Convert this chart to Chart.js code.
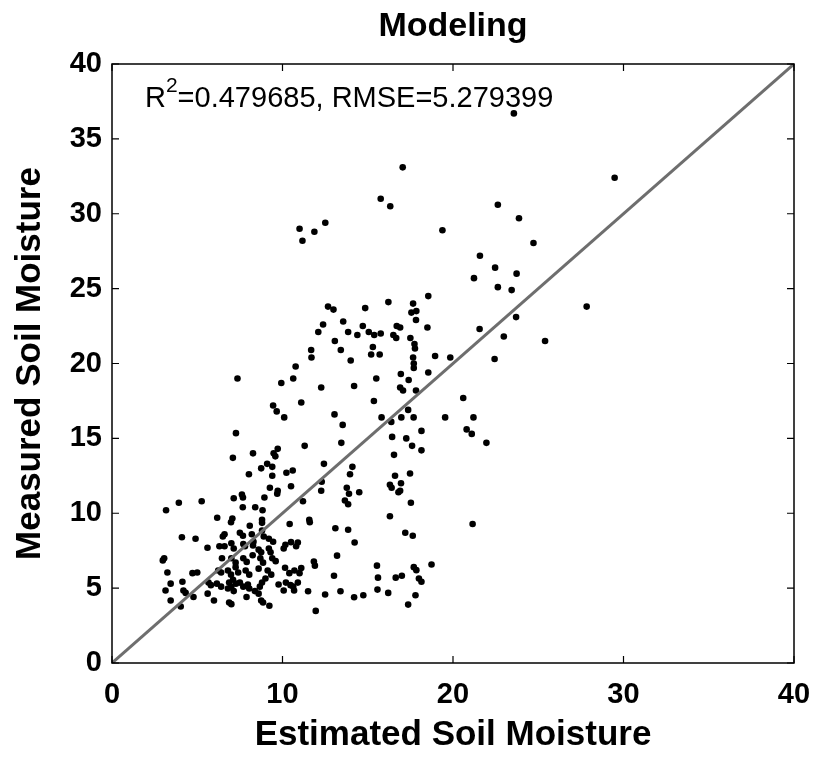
<!DOCTYPE html>
<html>
<head>
<meta charset="utf-8">
<script src="https://cdn.jsdelivr.net/npm/chart.js@4.4.1/dist/chart.umd.min.js"></script>
<style>
  html, body { margin: 0; padding: 0; background: #fff; }
  #wrap { width: 817px; height: 757px; }
</style>
</head>
<body>
<div id="wrap"><canvas id="scatter-chart" width="817" height="757"></canvas></div>
<script>
// estimated (x) vs measured (y) soil moisture
const estimated = [
  23.57, 17.05, 29.48, 15.76, 16.32, 22.63, 23.87, 11.0, 12.51, 11.87,
  11.17, 19.38, 24.72, 21.58, 22.47, 23.73, 21.23, 22.63, 23.44, 18.55,
  27.84, 16.21, 12.67, 12.99, 14.85, 17.66, 17.85, 17.56, 12.38, 13.56,
  14.71, 16.7, 16.9, 17.83, 18.5, 23.7, 21.56, 12.1, 13.85, 14.39,
  15.06, 15.38, 15.76, 16.5, 16.67, 17.5, 13.07, 15.3, 22.98, 25.4,
  17.74, 17.77, 13.42, 11.68, 11.7, 15.2, 15.7, 14.0, 17.66, 17.7,
  18.95, 19.84, 22.44, 10.77, 17.7, 18.55, 16.94, 7.36, 10.63, 9.93,
  15.5, 17.4, 12.27, 14.2, 16.9, 17.07, 17.83, 20.6, 11.1, 15.36,
  9.45, 9.66, 10.1, 13.05, 17.37, 15.81, 16.38, 16.97, 17.69, 19.54,
  21.2, 13.53, 18.15, 20.8, 21.1, 21.96, 7.27, 16.43, 17.26, 13.45,
  17.6, 11.3, 9.48, 9.72, 9.58, 8.27, 7.09, 18.15, 16.54, 12.43,
  14.1, 13.96, 9.1, 9.4, 10.6, 10.23, 8.03, 8.75, 17.48, 16.6,
  9.4, 10.5, 12.3, 12.27, 16.3, 16.4, 16.9, 16.8, 16.95, 9.26,
  9.72, 9.69, 13.77, 13.9, 14.5, 7.14, 7.62, 7.68, 8.94, 11.2,
  13.66, 13.85, 7.67, 8.4, 17.53, 3.92, 5.26, 3.17, 8.83, 16.3,
  11.57, 11.6, 8.8, 8.8, 7.06, 6.98, 6.17, 10.42, 21.15, 8.08,
  13.1, 13.85, 17.2, 17.64, 4.1, 4.9, 6.6, 6.5, 7.5, 7.68,
  8.2, 8.8, 8.9, 9.2, 5.6, 6.3, 6.6, 7.0, 7.14, 7.7,
  7.8, 8.3, 8.27, 8.6, 8.75, 9.2, 9.3, 9.45, 10.17, 10.07,
  10.5, 10.9, 10.8, 14.23, 13.2, 7.7, 7.9, 7.0, 7.25, 6.45,
  8.7, 8.86, 8.25, 9.4, 9.6, 3.06, 2.98, 11.84, 11.9, 18.74,
  15.54, 17.7, 17.85, 3.25, 4.72, 5.0, 6.23, 6.4, 6.8, 6.98,
  7.25, 7.4, 7.84, 8.05, 8.6, 9.13, 9.34, 10.15, 10.4, 10.7,
  11.0, 11.1, 13.02, 15.6, 16.64, 17.0, 18.0, 18.15, 3.44, 4.13,
  5.66, 5.8, 6.15, 6.4, 6.87, 7.0, 7.1, 7.27, 6.8, 7.14,
  7.5, 7.7, 7.97, 8.05, 8.8, 8.67, 9.0, 9.77, 10.07, 10.2,
  10.47, 10.63, 10.68, 10.9, 3.14, 4.19, 4.32, 5.61, 7.89, 8.38,
  8.6, 11.5, 12.5, 13.4, 14.2, 14.74, 15.57, 16.2, 17.8, 3.44,
  4.78, 5.98, 6.87, 7.0, 8.75, 8.86, 4.03, 9.23, 11.95, 17.37
];
const measured = [
  36.7, 33.1, 32.4, 31.0, 30.5, 30.6, 29.7, 29.0, 29.4, 28.8,
  28.2, 28.9, 28.05, 27.2, 26.4, 26.0, 25.7, 25.1, 24.9, 24.5,
  23.8, 24.1, 23.8, 23.6, 23.7, 24.0, 23.5, 23.4, 22.6, 22.8,
  22.5, 22.5, 22.4, 22.9, 22.4, 23.1, 22.3, 22.1, 22.1, 21.9,
  22.1, 21.9, 22.0, 21.9, 21.7, 21.7, 21.5, 21.1, 21.8, 21.5,
  21.3, 21.0, 20.9, 20.9, 20.4, 20.6, 20.6, 20.2, 20.4, 20.0,
  20.5, 20.4, 20.3, 19.8, 19.7, 19.4, 19.3, 19.0, 19.0, 18.7,
  19.0, 18.9, 18.4, 18.5, 18.4, 18.2, 18.2, 17.7, 17.4, 17.5,
  17.2, 16.8, 16.4, 16.6, 16.9, 16.4, 16.1, 16.4, 16.4, 16.4,
  16.4, 15.9, 15.5, 15.6, 15.3, 14.7, 15.35, 15.1, 15.0, 14.7,
  14.5, 14.5, 14.0, 14.3, 13.8, 14.0, 13.7, 14.2, 13.9, 13.3,
  13.1, 12.6, 13.3, 13.1, 12.85, 12.7, 12.6, 13.0, 12.65, 12.5,
  12.5, 11.8, 12.1, 11.5, 11.9, 11.7, 11.5, 11.4, 12.0, 11.7,
  11.5, 11.3, 11.7, 11.3, 11.4, 11.0, 11.25, 11.05, 11.05, 10.8,
  10.85, 10.6, 10.4, 10.4, 10.7, 10.7, 10.8, 10.2, 10.2, 9.8,
  9.57, 9.4, 9.57, 9.36, 9.65, 9.4, 9.7, 9.28, 9.28, 9.17,
  9.0, 8.9, 8.7, 8.5, 8.4, 8.3, 8.6, 8.45, 8.7, 8.5,
  8.6, 8.85, 8.45, 8.3, 7.7, 7.8, 7.8, 8.0, 7.65, 7.95,
  7.8, 8.1, 7.85, 7.57, 7.4, 7.65, 7.4, 8.1, 7.9, 7.65,
  8.07, 8.05, 7.8, 8.05, 7.17, 7.0, 6.75, 7.0, 6.7, 7.0,
  7.0, 6.7, 7.2, 7.0, 6.8, 7.0, 6.85, 6.77, 6.5, 6.58,
  6.5, 6.4, 6.2, 6.04, 6.0, 6.04, 6.18, 6.04, 6.18, 5.9,
  6.4, 6.04, 6.18, 5.9, 6.3, 6.18, 5.9, 6.36, 6.0, 6.18,
  6.0, 6.34, 5.83, 5.7, 5.7, 5.83, 5.64, 5.43, 5.3, 5.43,
  5.37, 5.2, 5.3, 5.1, 5.37, 5.1, 5.56, 5.3, 4.97, 4.8,
  5.37, 5.1, 5.24, 4.97, 5.37, 5.1, 5.64, 5.24, 4.84, 5.37,
  5.2, 5.1, 4.84, 5.37, 4.84, 4.84, 4.68, 4.63, 4.41, 4.8,
  4.63, 4.79, 4.57, 4.79, 4.39, 4.52, 4.9, 4.68, 4.52, 4.17,
  4.41, 4.17, 4.04, 3.93, 4.17, 4.04, 3.77, 3.82, 3.48, 3.9
];
// 1:1 reference line
const oneToOne = [0, 40];
const xTicks = [0, 10, 20, 30, 40];
const yTicks = [0, 5, 10, 15, 20, 25, 30, 35, 40];
const titleText = "Modeling";
const r2Text = "0.479685";
const rmseText = "5.279399";

document.addEventListener("DOMContentLoaded", function () {
  const ctx = document.getElementById("scatter-chart").getContext("2d");
  const FONT = "'Liberation Sans', Arial, sans-serif";

  // matlab style box with inward ticks, title over the axes, and the stats text
  const boxPlugin = {
    id: "boxPlugin",
    afterDatasetsDraw(chart) {
      const c = chart.ctx;
      const a = chart.chartArea;
      const xs = chart.scales.x;
      const ys = chart.scales.y;
      c.save();
      c.strokeStyle = "#000";
      c.lineWidth = 1.5;
      c.strokeRect(a.left, a.top, a.right - a.left, a.bottom - a.top);
      c.lineWidth = 1.2;
      c.beginPath();
      xTicks.forEach(function (v) {
        const px = xs.getPixelForValue(v);
        c.moveTo(px, a.bottom); c.lineTo(px, a.bottom - 7);
        c.moveTo(px, a.top); c.lineTo(px, a.top + 7);
      });
      yTicks.forEach(function (v) {
        const py = ys.getPixelForValue(v);
        c.moveTo(a.left, py); c.lineTo(a.left + 7, py);
        c.moveTo(a.right, py); c.lineTo(a.right - 7, py);
      });
      c.stroke();

      c.fillStyle = "#000";
      c.textBaseline = "alphabetic";

      // title, centred on the axes box
      c.textAlign = "center";
      c.font = "bold 34px " + FONT;
      c.fillText(titleText, (a.left + a.right) / 2, 36);

      // R^2 / RMSE label
      c.textAlign = "left";
      let tx = a.left + 33;
      const ty = a.top + 43;
      c.font = "29px " + FONT;
      c.fillText("R", tx, ty);
      tx += c.measureText("R").width;
      c.font = "21px " + FONT;
      c.fillText("2", tx, ty - 15);
      tx += c.measureText("2").width;
      c.font = "29px " + FONT;
      c.fillText("=" + r2Text + ", RMSE=" + rmseText, tx, ty);
      c.restore();
    },
  };

  new Chart(ctx, {
    type: "scatter",
    data: {
      datasets: [
        {
          label: "1:1",
          type: "line",
          data: oneToOne.map(function (v) { return { x: v, y: v }; }),
          borderColor: "#6e6e6e",
          borderWidth: 3,
          pointRadius: 0,
          fill: false,
          order: 1,
        },
        {
          label: "Samples",
          data: estimated.map(function (v, i) { return { x: v, y: measured[i] }; }),
          backgroundColor: "#000",
          borderColor: "#000",
          borderWidth: 0,
          pointRadius: 3.3,
          order: 2,
        },
      ],
    },
    options: {
      responsive: false,
      animation: false,
      layout: { padding: { left: 0, right: 23, top: 64, bottom: 0 } },
      plugins: {
        legend: { display: false },
        tooltip: { enabled: false },
        title: { display: false },
      },
      scales: {
        x: {
          type: "linear",
          min: 0,
          max: 40,
          afterFit: function (s) {
            s.height = 94;
            s.paddingLeft = 0;
            s.paddingRight = 0;
          },
          afterBuildTicks: function (s) { s.ticks = xTicks.map(function (v) { return { value: v }; }); },
          grid: { display: false, drawTicks: false },
          border: { display: false },
          ticks: {
            color: "#000",
            padding: 15,
            maxRotation: 0,
            font: { family: FONT, size: 29, weight: "bold" },
          },
          title: {
            display: true,
            text: "Estimated Soil Moisture",
            color: "#000",
            font: { family: FONT, size: 35, weight: "bold" },
            padding: { top: 0, bottom: 1 },
          },
        },
        y: {
          type: "linear",
          min: 0,
          max: 40,
          afterFit: function (s) {
            s.width = 112;
            s.paddingTop = 0;
            s.paddingBottom = 0;
          },
          afterBuildTicks: function (s) { s.ticks = yTicks.map(function (v) { return { value: v }; }); },
          grid: { display: false, drawTicks: false },
          border: { display: false },
          ticks: {
            color: "#000",
            padding: 10,
            font: { family: FONT, size: 29, weight: "bold" },
          },
          title: {
            display: true,
            text: "Measured Soil Moisture",
            color: "#000",
            font: { family: FONT, size: 35, weight: "bold" },
            padding: { top: 9, bottom: 0 },
          },
        },
      },
    },
    plugins: [boxPlugin],
  });
});
</script>
</body>
</html>
